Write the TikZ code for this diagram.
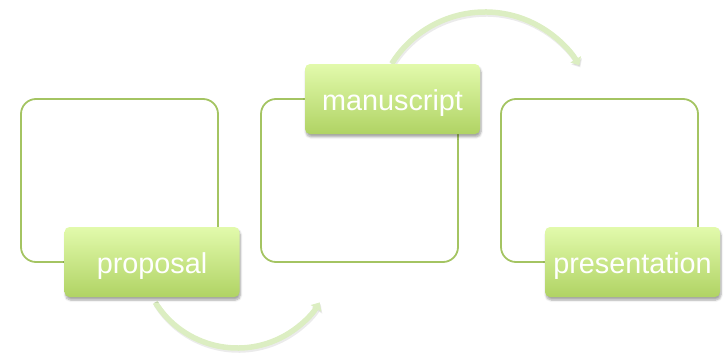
\documentclass[tikz,border=0pt]{standalone}
\usepackage{fontspec}
\setmainfont{Liberation Sans}
\usetikzlibrary{shadows,shadows.blur,arrows.meta}
\definecolor{outline}{RGB}{164,196,98}
\definecolor{gtop}{RGB}{226,250,172}
\definecolor{gbot}{RGB}{176,211,100}
\definecolor{arrowc}{RGB}{220,238,194}
\tikzset{
  frame/.style={draw=outline, line width=1.8pt, rounded corners=15pt,
    minimum width=197pt, minimum height=163pt, inner sep=0pt},
  tagbox/.style={rounded corners=5pt, top color=gtop, bottom color=gbot,
    minimum width=175pt, minimum height=70pt, inner sep=0pt, text=white,
    font=\fontsize{28.8}{34}\selectfont, text height=22pt, text depth=0pt,
    blur shadow={shadow xshift=1pt, shadow yshift=-3pt, shadow opacity=35, shadow blur steps=6}},
  flow/.style={line width=5.5pt, draw=arrowc, -{Triangle[length=7pt,width=12pt]}},
  flowshadow/.style={line width=5.5pt, draw=black, opacity=0.08, -{Triangle[length=7pt,width=12pt]}}
}
\begin{document}
\begin{tikzpicture}[x=1pt,y=1pt]
  \useasboundingbox (0,0) rectangle (727,357);
  % outline frames
  \node[frame] (f1) at (119.5,176.5) {};
  \node[frame] (f2) at (359.5,176.5) {};
  \node[frame] (f3) at (599.5,176.5) {};
  % arrows
  \coordinate (a1) at (155.2,54.6);
  \coordinate (a2) at (391.7,293.3);
  \draw[flowshadow] ([shift={(1,-2)}]a1) arc[start angle=212, end angle=328, radius=97];
  \draw[flowshadow] ([shift={(1,-2)}]a2) arc[start angle=148, end angle=31, radius=110];
  \draw[flow] (a1) arc[start angle=212, end angle=328, radius=97];
  \draw[flow] (a2) arc[start angle=148, end angle=31, radius=110];
  % labels
  \node[tagbox] (p) at (152,95) {proposal};
  \node[tagbox] (m) at (392.5,258) {manuscript};
  \node[tagbox] (r) at (632.5,95) {presentation};
\end{tikzpicture}
\end{document}
